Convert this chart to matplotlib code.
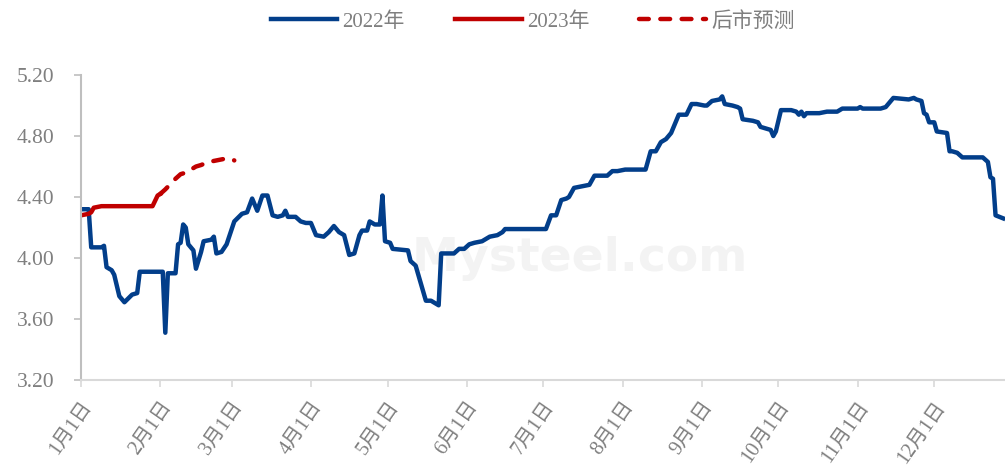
import numpy as np
import matplotlib.pyplot as plt

# day offsets from Jan 1 and price values
days_2022 = [0, 3, 4, 8, 9, 10, 12, 13, 15, 17, 20, 22, 23, 32, 33, 34, 37, 38, 39, 40, 41, 42, 44, 45,
             47, 48, 51, 52, 53, 55, 57, 60, 63, 65, 67, 69, 71, 73, 75, 77, 79, 80, 81, 84, 86, 88, 90,
             92, 95, 97, 99, 101, 103, 105, 107, 109, 110, 112, 113, 115, 117, 118, 119, 121, 122, 128,
             129, 131, 135, 137, 140, 141, 146, 148, 150, 152, 154, 157, 160, 163, 165, 166, 182, 184,
             186, 188, 190, 191, 193, 199, 201, 206, 208, 210, 213, 221, 223, 225, 227, 229, 231, 233,
             234, 237, 239, 241, 244, 245, 247, 250, 251, 252, 255, 257, 258, 259, 263, 265, 266, 268,
             270, 271, 272, 274, 278, 280, 281, 282, 283, 284, 289, 292, 296, 298, 304, 305, 306, 313,
             315, 316, 318, 324, 326, 327, 329, 330, 331, 332, 334, 335, 339, 340, 341, 343, 345, 353,
             355, 356, 357, 358, 361]
price_2022 = [4.32, 4.32, 4.07, 4.07, 4.08, 3.94, 3.92, 3.89, 3.75, 3.71, 3.76, 3.77, 3.91, 3.91, 3.51,
              3.90, 3.90, 4.09, 4.10, 4.22, 4.20, 4.09, 4.05, 3.93, 4.04, 4.11, 4.12, 4.14, 4.03, 4.04,
              4.09, 4.24, 4.29, 4.30, 4.39, 4.31, 4.41, 4.41, 4.28, 4.27, 4.28, 4.31, 4.27, 4.27, 4.24,
              4.23, 4.23, 4.15, 4.14, 4.17, 4.21, 4.17, 4.15, 4.02, 4.03, 4.15, 4.18, 4.18, 4.24, 4.22,
              4.22, 4.41, 4.11, 4.10, 4.06, 4.05, 3.98, 3.95, 3.72, 3.72, 3.69, 4.03, 4.03, 4.06, 4.06,
              4.09, 4.10, 4.11, 4.14, 4.15, 4.17, 4.19, 4.19, 4.28, 4.28, 4.38, 4.39, 4.40, 4.46, 4.48,
              4.54, 4.54, 4.57, 4.57, 4.58, 4.58, 4.70, 4.70, 4.76, 4.78, 4.82, 4.90, 4.94, 4.94, 5.01,
              5.01, 5.00, 5.00, 5.03, 5.04, 5.06, 5.01, 5.00, 4.99, 4.98, 4.91, 4.90, 4.89, 4.86, 4.85,
              4.84, 4.80, 4.83, 4.97, 4.97, 4.96, 4.94, 4.96, 4.93, 4.95, 4.95, 4.96, 4.96, 4.98, 4.98,
              4.99, 4.98, 4.98, 4.99, 5.01, 5.05, 5.04, 5.05, 5.04, 5.03, 4.95, 4.94, 4.89, 4.89, 4.83,
              4.82, 4.70, 4.70, 4.69, 4.66, 4.66, 4.63, 4.53, 4.52, 4.28, 4.26]

days_2023 = [0, 3, 4, 5, 8, 28, 30, 31]
price_2023 = [4.28, 4.29, 4.30, 4.33, 4.34, 4.34, 4.41, 4.42]

days_fc = [31, 33, 37, 39, 41, 45, 47, 50, 56, 59, 60]
price_fc = [4.42, 4.45, 4.52, 4.55, 4.56, 4.60, 4.61, 4.63, 4.65, 4.65, 4.64]

month_starts = [0, 31, 59, 90, 120, 151, 181, 212, 243, 273, 304, 334]
month_labels = ['%d月1日' % m for m in range(1, 13)]
y_ticks = [3.2, 3.6, 4.0, 4.4, 4.8, 5.2]

fonts = ['Liberation Serif', 'Noto Sans CJK SC']
plt.rcParams['font.family'] = fonts
grey = '#7f7f7f'

fig = plt.figure(figsize=(10.05, 4.75), dpi=100)
ax = fig.add_axes([0.0806, 0.2, 0.9194, 0.642])

ax.plot(days_2022, price_2022, color='#023e8a', lw=3.2, label='2022年', solid_joinstyle='round')
ax.plot(days_2023, price_2023, color='#c00000', lw=3.2, label='2023年')
ax.plot(days_fc, price_fc, color='#c00000', lw=3.2, ls=(0, (2.2, 2.6)), dash_capstyle='round',
        label='后市预测')

# faint watermark
ax.text(0.54, 0.4, 'Mysteel.com', transform=ax.transAxes, fontsize=34, color='#f3f3f3',
        family='DejaVu Sans', fontweight='bold', ha='center', va='center', zorder=0)

ax.set_xlim(0, 361.7)
ax.set_ylim(3.2, 5.2)
ax.set_yticks(y_ticks)
ax.set_yticklabels(['%.2f' % v for v in y_ticks])
ax.set_xticks(month_starts)
ax.set_xticklabels(month_labels, rotation=55, ha='right', va='top', rotation_mode='anchor')

for s in ['top', 'right']:
    ax.spines[s].set_visible(False)
ax.spines['left'].set_color('#bfbfbf')
ax.spines['bottom'].set_color('#d9d9d9')
ax.spines['left'].set_linewidth(1.5)
ax.spines['bottom'].set_linewidth(1.5)
ax.tick_params(axis='y', colors='#bfbfbf', labelcolor=grey, labelsize=15.5, length=5, width=1.2, pad=14)
ax.tick_params(axis='x', colors='#d9d9d9', labelcolor=grey, labelsize=14.5, length=5, width=1.2, pad=8)

fig.legend(loc='center', bbox_to_anchor=(0.53, 0.954), ncol=3, frameon=False, fontsize=15,
           handlelength=3.2, handletextpad=0.25, columnspacing=2.4, labelcolor=grey)

fig.savefig('out.png', dpi=100)
